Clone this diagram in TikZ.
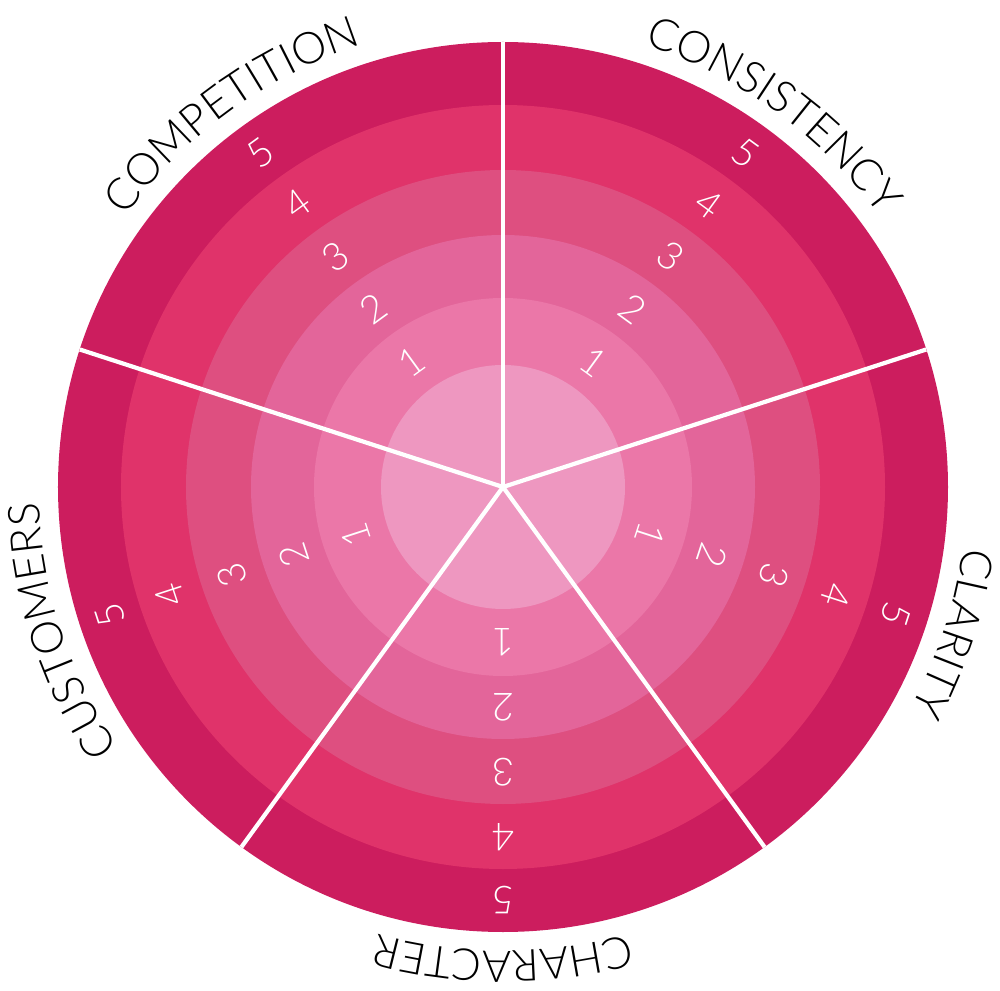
\documentclass[tikz,border=0pt]{standalone}
\usepackage{fontspec}
\setmainfont{Lato}[UprightFont=* Light, LetterSpace=4]
\usetikzlibrary{decorations.text}
\definecolor{ringA}{HTML}{CC1D5E}
\definecolor{ringB}{HTML}{E0336A}
\definecolor{ringC}{HTML}{DE4F80}
\definecolor{ringD}{HTML}{E3659A}
\definecolor{ringE}{HTML}{EB77A8}
\definecolor{ringF}{HTML}{EE97C0}
\begin{document}
\begin{tikzpicture}[x=0.02cm,y=0.02cm]
    \tikzstyle{score}=[text=white, font=\fontsize{22}{22}\selectfont]
    \tikzstyle{divider}=[draw=white, line width=2.4pt]

    % Frame
    \useasboundingbox (-503,-503) rectangle (497,487);

    % Rings
    \fill[ringA] (0,0) circle (445);
    \fill[ringB] (0,0) circle (382);
    \fill[ringC] (0,0) circle (317);
    \fill[ringD] (0,0) circle (252);
    \fill[ringE] (0,0) circle (189);
    \fill[ringF] (0,0) circle (122);

    \coordinate (O) at (0,0);

    % Dividers
    \foreach \a in {90,18,-54,-126,162}
        \draw[divider] (O) -- (\a:445);

    % Scores
    \foreach \a in {126,54,-18,-90,198}
        \foreach \r/\n in {155/1,220/2,285/3,350/4,413/5}
            \node[score, rotate=\a-90] (s\n) at (\a:\r) {\n};

    % Labels
    \foreach \a/\t in {126/COMPETITION,54/CONSISTENCY,-18/CLARITY,-90/CHARACTER,198/CUSTOMERS}
        \path[decorate, decoration={text along path, text align=center,
            text={|\fontsize{25}{25}\selectfont|\t}}]
            (\a+45:464) arc[start angle=\a+45, end angle=\a-45, radius=464];
\end{tikzpicture}
\end{document}
